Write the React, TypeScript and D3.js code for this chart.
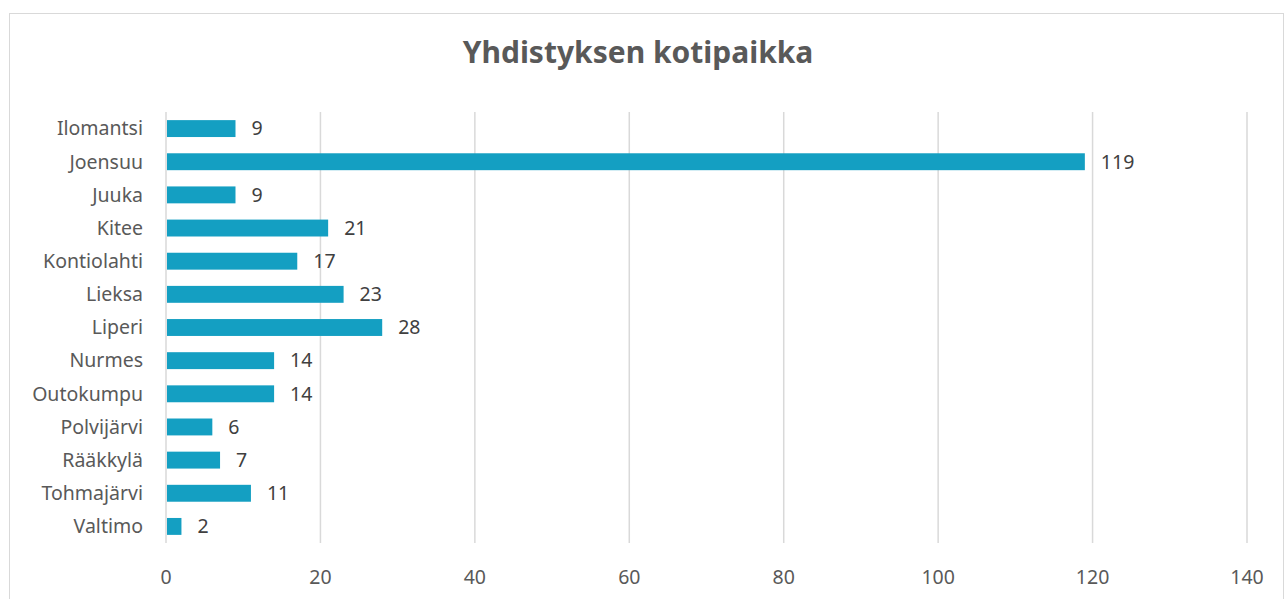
import { useRef, useEffect } from 'react';
import * as d3 from 'd3';

const categories = [
  "Ilomantsi", "Joensuu", "Juuka", "Kitee", "Kontiolahti", "Lieksa", "Liperi",
  "Nurmes", "Outokumpu", "Polvijärvi", "Rääkkylä", "Tohmajärvi", "Valtimo"
];
const counts = [9, 119, 9, 21, 17, 23, 28, 14, 14, 6, 7, 11, 2];
const xTicks = [0, 20, 40, 60, 80, 100, 120, 140];
const title = "Yhdistyksen kotipaikka";

export default function App() {
  const svgRef = useRef<SVGSVGElement>(null);

  useEffect(() => {
    const width = 1285;
    const height = 599;
    const margin = { top: 112, right: 38, bottom: 56, left: 166 };
    const font = "Noto Sans, Open Sans, sans-serif";

    const svg = d3.select(svgRef.current);
    svg.selectAll("*").remove();

    const data = categories.map((c, i) => ({ name: c, value: counts[i] }));

    // chart frame
    svg.append("rect")
      .attr("x", 9.5).attr("y", 13.5)
      .attr("width", 1274).attr("height", 600)
      .attr("fill", "#fff")
      .attr("stroke", "#d9d9d9");

    svg.append("text")
      .attr("x", 638).attr("y", 63)
      .attr("text-anchor", "middle")
      .attr("font-family", font)
      .attr("font-weight", "bold")
      .attr("font-size", 30)
      .attr("fill", "#595959")
      .text(title);

    const x = d3.scaleLinear()
      .domain([0, 140])
      .range([margin.left, width - margin.right]);

    const y = d3.scaleBand()
      .domain(categories)
      .range([margin.top, height - margin.bottom])
      .paddingInner(0.49)
      .paddingOuter(0.245);

    // gridlines
    svg.append("g")
      .selectAll("line")
      .data(xTicks)
      .join("line")
      .attr("x1", d => x(d)).attr("x2", d => x(d))
      .attr("y1", margin.top).attr("y2", height - margin.bottom)
      .attr("stroke", "#d9d9d9")
      .attr("stroke-width", 1.5);

    // x tick labels
    svg.append("g")
      .selectAll("text")
      .data(xTicks)
      .join("text")
      .attr("x", d => x(d))
      .attr("y", 584)
      .attr("text-anchor", "middle")
      .attr("font-family", font)
      .attr("font-size", 19.5)
      .attr("fill", "#595959")
      .text(d => d);

    // category labels
    svg.append("g")
      .selectAll("text")
      .data(data)
      .join("text")
      .attr("x", 143)
      .attr("y", d => y(d.name)! + y.bandwidth() / 2)
      .attr("dy", "0.35em")
      .attr("text-anchor", "end")
      .attr("font-family", font)
      .attr("font-size", 19.5)
      .attr("fill", "#595959")
      .text(d => d.name);

    // bars
    svg.append("g")
      .selectAll("rect")
      .data(data)
      .join("rect")
      .attr("x", x(0) + 1)
      .attr("y", d => y(d.name)!)
      .attr("width", d => x(d.value) - x(0) - 1)
      .attr("height", y.bandwidth())
      .attr("fill", "#149fc2");

    // value labels
    svg.append("g")
      .selectAll("text")
      .data(data)
      .join("text")
      .attr("x", d => x(d.value) + 16)
      .attr("y", d => y(d.name)! + y.bandwidth() / 2)
      .attr("dy", "0.35em")
      .attr("font-family", font)
      .attr("font-size", 19.5)
      .attr("fill", "#404040")
      .text(d => d.value);
  }, []);

  return (
    <svg
      ref={svgRef}
      width={1285}
      height={599}
      style={{ position: 'absolute', left: 0, top: 0, background: '#fff' }}
    />
  );
}
